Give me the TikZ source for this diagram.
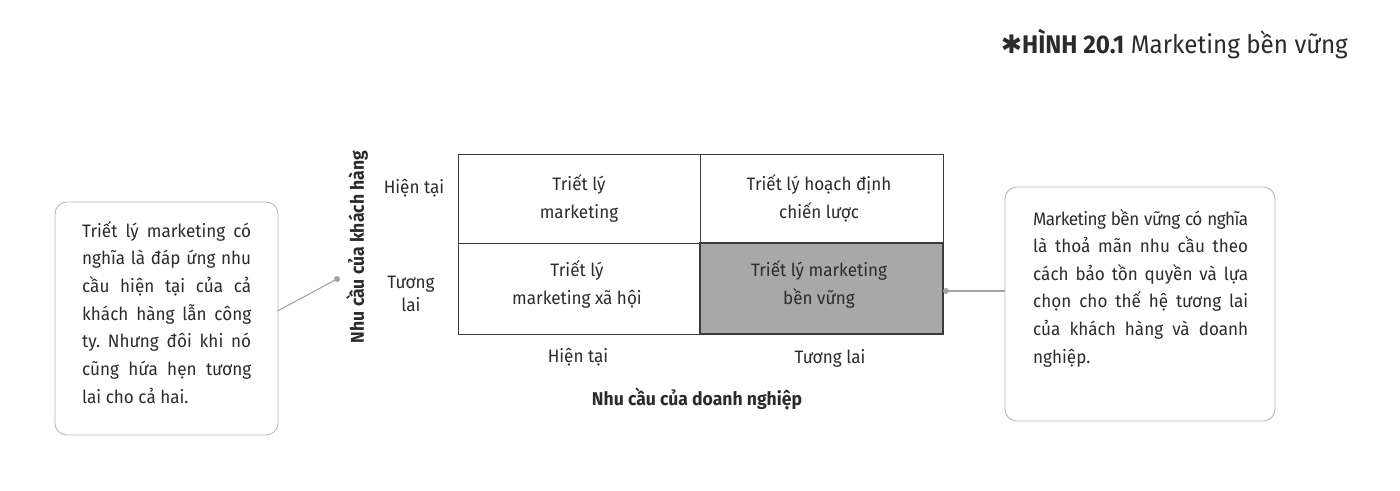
\documentclass[tikz,border=0pt]{standalone}
\usepackage{fontspec}
\setmainfont{Fira Sans}[FakeStretch=0.95]
\newfontfamily\symfont{DejaVu Sans}
\frenchspacing
\definecolor{txt}{HTML}{2B2B2B}
\definecolor{cellgray}{HTML}{A8A8A8}
\definecolor{boxline}{HTML}{B8B8B8}
\definecolor{conn}{HTML}{A3A3A3}
\definecolor{gridline}{HTML}{3A3A3A}
\begin{document}
\begin{tikzpicture}[x=1pt,y=-1pt,
  every node/.style={text=txt, inner sep=0pt},
  body/.style={font=\fontsize{18}{28}\selectfont},
  cellbox/.style={draw=gridline, line width=0.9pt},
  hotcell/.style={draw=gridline, fill=cellgray, line width=1.4pt},
  celltext/.style={body, align=center},
  axistext/.style={font=\bfseries\fontsize{18.5}{22}\selectfont},
  notebox/.style={draw=boxline, line width=0.9pt, rounded corners=12pt},
  conline/.style={draw=conn, line width=1.1pt},
  condot/.style={circle, fill=conn, minimum size=6pt, inner sep=0pt}
]
\useasboundingbox (0,0) rectangle (1400,490);

% title
\node[anchor=base east] (title) at (1348,53)
  {\fontsize{25.5}{30}\selectfont{\symfont\char"2731}\textbf{HÌNH 20.1} Marketing bền vững};

% matrix cells
\draw[cellbox] (458,154) rectangle (700,243);
\draw[cellbox] (700,154) rectangle (943,243);
\draw[cellbox] (458,243) rectangle (700,334);
\draw[hotcell] (700,243) rectangle (943,334);

\node[celltext] (c11) at (579,198) {Triết lý\\marketing};
\node[celltext] (c12) at (819,198) {Triết lý hoạch định\\chiến lược};
\node[celltext] (c21) at (577,284) {Triết lý\\marketing xã hội};
\node[celltext] (c22) at (819,284) {Triết lý marketing\\bền vững};

% row labels
\node[celltext] (r1) at (414,188) {Hiện tại};
\node[celltext, font=\fontsize{18}{23}\selectfont] (r2) at (411,294) {Tương\\lai};
% column labels
\node[celltext] (k1) at (578,357) {Hiện tại};
\node[celltext] (k2) at (830,358) {Tương lai};

% axis titles
\node[axistext] (xa) at (697,399) {Nhu cầu của doanh nghiệp};
\node[axistext, rotate=90] (ya) at (357,247) {Nhu cầu của khách hàng};

% note boxes
\node[notebox, minimum width=223pt, minimum height=233pt] (lbox) at (166.5,318.5) {};
\node[anchor=base west] (ltext) at (82,237) {\parbox[t]{169pt}{\fontsize{18}{27.7}\selectfont
Triết lý marketing có\linebreak
nghĩa là đáp ứng nhu\linebreak
cầu hiện tại của cả\linebreak
khách hàng lẫn công\linebreak
ty. Nhưng đôi khi nó\linebreak
cũng hứa hẹn tương\linebreak
lai cho cả hai.}};

\node[notebox, minimum width=270pt, minimum height=234pt] (rbox) at (1140,304) {};
\node[anchor=base west] (rtext) at (1033,225) {\parbox[t]{215pt}{\fontsize{18}{27.6}\selectfont
\makebox[215pt][s]{\addfontfeature{LetterSpace=-3}Marketing bền vững có nghĩa}\linebreak
là thoả mãn nhu cầu theo\linebreak
cách bảo tồn quyền và lựa\linebreak
chọn cho thế hệ tương lai\linebreak
của khách hàng và doanh\linebreak
nghiệp.}};

% connectors
\node[condot] (ldot) at (337,279) {};
\coordinate (lstart) at (277.5,311);
\draw[conline] (lstart) -- (ldot.center);

\node[condot] (rdot) at (946,291) {};
\draw[conline] (rdot.center) -- (rdot.center -| rbox.west);
\end{tikzpicture}
\end{document}
